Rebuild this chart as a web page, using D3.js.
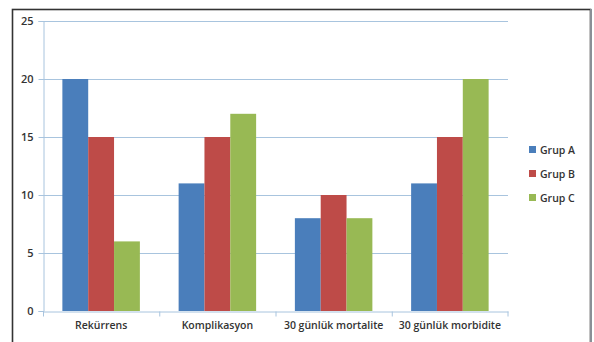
<!DOCTYPE html>
<html>
<head>
<meta charset="utf-8">
<script src="https://cdn.jsdelivr.net/npm/d3@7"></script>
<style>
  html, body { margin: 0; padding: 0; background: #fff; }
  svg { display: block; }
  text { font-family: "Open Sans", "Liberation Sans", sans-serif; }
</style>
</head>
<body>
<svg id="chart" width="594" height="342"></svg>
<script>
// Categories and series
const categories = ["Rekürrens", "Komplikasyon", "30 günlük mortalite", "30 günlük morbidite"];
const seriesNames = ["Grup A", "Grup B", "Grup C"];
const grupA = [20, 11, 8, 11];
const grupB = [15, 15, 10, 15];
const grupC = [6, 17, 8, 20];
const yTicks = [0, 5, 10, 15, 20, 25];
const colors = ["#4a7ebb", "#be4b48", "#98b954"];

const seriesValues = [grupA, grupB, grupC];
const rows = categories.map((c, i) => ({
  cat: c,
  vals: seriesNames.map((s, j) => ({ series: s, idx: j, value: seriesValues[j][i] }))
}));

const svg = d3.select("#chart");

// outer frame
svg.append("rect")
  .attr("x", 12.5).attr("y", 9.5)
  .attr("width", 578).attr("height", 340)
  .attr("fill", "#fff")
  .attr("stroke", "#333").attr("stroke-width", 1.6);
svg.append("line")
  .attr("x1", 591).attr("x2", 591).attr("y1", 9).attr("y2", 342)
  .attr("stroke", "#8a8f96").attr("stroke-width", 2);

const plot = { left: 43, right: 508, top: 21, bottom: 311 };

const x0 = d3.scaleBand().domain(categories).range([plot.left, plot.right]);
// 150% gap width: bars fill 3/(3+1.5) of each band
const inner = x0.bandwidth() * 3 / 4.5;
const x1 = d3.scaleBand().domain(seriesNames).range([0, inner]);
const y = d3.scaleLinear().domain([0, 25]).range([plot.bottom, plot.top]);

// gridlines
svg.append("g")
  .selectAll("line")
  .data(yTicks.filter(t => t > 0))
  .join("line")
  .attr("x1", plot.left).attr("x2", plot.right)
  .attr("y1", d => y(d) + 0.5).attr("y2", d => y(d) + 0.5)
  .attr("stroke", "#a8c4de").attr("stroke-width", 1);

// bars
const groups = svg.append("g")
  .selectAll("g")
  .data(rows)
  .join("g")
  .attr("transform", d => `translate(${x0(d.cat) + (x0.bandwidth() - inner) / 2},0)`);

groups.selectAll("rect")
  .data(d => d.vals)
  .join("rect")
  .attr("x", d => x1(d.series))
  .attr("width", x1.bandwidth())
  .attr("y", d => y(d.value))
  .attr("height", d => y(0) - y(d.value))
  .attr("fill", d => colors[d.idx]);

// y axis
const yAxis = d3.axisLeft(y).tickValues(yTicks).tickSize(5).tickPadding(5);
const gy = svg.append("g")
  .attr("transform", `translate(${plot.left + 0.5},0)`)
  .call(yAxis);
gy.select(".domain").attr("stroke", "#a8c4de");
gy.selectAll(".tick line").attr("stroke", "#a8c4de");
gy.selectAll(".tick text")
  .attr("fill", "#333").attr("font-size", 11).attr("font-weight", 600)
  .style("font-family", "'Open Sans', sans-serif");

// x axis
const xAxis = d3.axisBottom(x0).tickSize(0).tickPadding(10);
const gx = svg.append("g")
  .attr("transform", `translate(0,${plot.bottom + 0.5})`)
  .call(xAxis);
gx.select(".domain").attr("stroke", "#a8c4de");
gx.selectAll(".tick text")
  .attr("fill", "#333").attr("font-size", 10.5).attr("font-weight", 600)
  .style("font-family", "'Open Sans', sans-serif");
// category separator ticks
gx.append("g")
  .selectAll("line")
  .data(categories)
  .join("line")
  .attr("x1", d => x0(d) + 0.5).attr("x2", d => x0(d) + 0.5)
  .attr("y1", 0).attr("y2", 5)
  .attr("stroke", "#a8c4de");
gx.append("line")
  .attr("x1", plot.right).attr("x2", plot.right)
  .attr("y1", 0).attr("y2", 5)
  .attr("stroke", "#a8c4de");

// legend
const legend = svg.append("g")
  .selectAll("g")
  .data(seriesNames)
  .join("g")
  .attr("transform", (d, i) => `translate(529,${146 + i * 24})`);
legend.append("rect")
  .attr("width", 7).attr("height", 7)
  .attr("fill", (d, i) => colors[i]);
legend.append("text")
  .attr("x", 11).attr("y", 7.5)
  .attr("fill", "#333").attr("font-size", 10.5).attr("font-weight", 600)
  .text(d => d);
</script>
</body>
</html>
